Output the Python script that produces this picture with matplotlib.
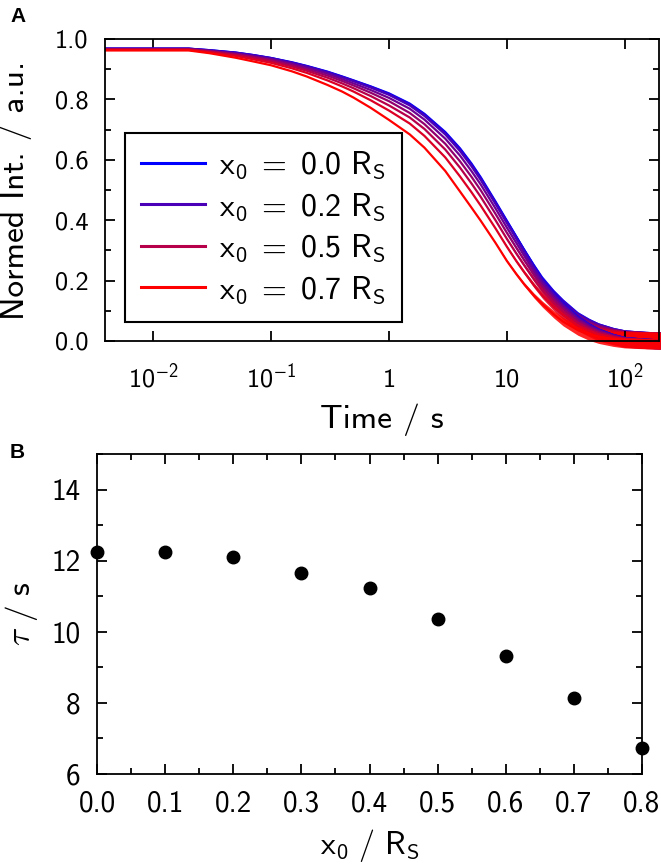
import matplotlib
matplotlib.use("Agg")
import matplotlib.pyplot as plt
from matplotlib.ticker import FixedLocator, FuncFormatter, MultipleLocator, NullLocator
import numpy as np

plt.rcParams['font.family'] = ['cmss10', 'DejaVu Sans']
plt.rcParams['mathtext.fontset'] = 'custom'
plt.rcParams['mathtext.rm'] = 'cmss10'
plt.rcParams['mathtext.sf'] = 'cmss10'
plt.rcParams['mathtext.it'] = 'cmmi10'
plt.rcParams['mathtext.bf'] = 'cmss10'
plt.rcParams['axes.unicode_minus'] = False

# ---------------- data ----------------
time_s = [0.004, 0.02, 0.03, 0.05, 0.07, 0.1, 0.15, 0.2, 0.3, 0.4, 0.5, 0.7, 1, 1.5, 2, 3, 4, 5,
          6, 8, 10, 12, 14, 17, 20, 25, 30, 40, 50, 60, 80, 100, 150, 200]
int_x00 = [.968, .968, .963, .955, .947, .937, .923, .911, .892, .876, .863, .843, .820, .786, .752, .692, .638, .588,
           .542, .462, .398, .346, .302, .248, .205, .158, .125, .080, .055, .038, .020, .010, .004, .002]
int_x01 = [.968, .968, .963, .955, .947, .937, .922, .910, .891, .875, .862, .842, .818, .784, .750, .689, .635, .585,
           .539, .459, .395, .344, .300, .246, .203, .157, .124, .079, .054, .038, .020, .010, .004, .002]
int_x02 = [.968, .968, .962, .954, .946, .936, .921, .909, .889, .873, .860, .839, .815, .780, .745, .684, .629, .579,
           .533, .454, .390, .339, .295, .242, .200, .154, .121, .077, .053, .037, .019, .010, .004, .002]
int_x03 = [.967, .967, .961, .952, .943, .933, .918, .905, .885, .867, .853, .831, .805, .769, .733, .670, .614, .563,
           .518, .439, .375, .325, .283, .231, .191, .146, .115, .073, .049, .034, .018, .009, .004, .002]
int_x04 = [.966, .966, .960, .950, .941, .930, .914, .900, .879, .861, .846, .822, .794, .755, .718, .653, .595, .544,
           .499, .421, .358, .309, .268, .219, .180, .137, .107, .067, .045, .031, .016, .008, .003, .002]
int_x05 = [.965, .965, .958, .947, .938, .926, .909, .895, .872, .853, .837, .811, .780, .740, .702, .634, .574, .522,
           .477, .400, .338, .290, .251, .204, .168, .126, .098, .060, .040, .027, .014, .007, .003, .002]
int_x06 = [.964, .964, .956, .944, .933, .921, .903, .888, .863, .843, .826, .797, .763, .720, .679, .608, .545, .493,
           .448, .373, .312, .265, .228, .184, .151, .112, .085, .051, .034, .022, .012, .006, .003, .001]
int_x07 = [.962, .962, .953, .938, .926, .913, .893, .876, .848, .826, .806, .772, .732, .684, .640, .563, .495, .442,
           .398, .325, .265, .222, .188, .150, .122, .088, .064, .036, .022, .014, .007, .004, .002, .001]
noise_halfwidth = [0, 0, 0, 0, 0, 0, 0, 0, 0, 0, 0, 0, 0, 0, 0, 0, 0, 0,
                   .001, .002, .004, .005, .006, .008, .010, .012, .014, .017, .020, .022, .025, .027, .028, .028]

curve_x0 = [0.0, 0.1, 0.2, 0.3, 0.4, 0.5, 0.6, 0.7]
curves = [int_x00, int_x01, int_x02, int_x03, int_x04, int_x05, int_x06, int_x07]
legend_x0 = [0.0, 0.2, 0.5, 0.7]

x0_values = [0.0, 0.1, 0.2, 0.3, 0.4, 0.5, 0.6, 0.7, 0.8]
tau_values = [12.25, 12.25, 12.1, 11.65, 11.22, 10.35, 9.31, 8.15, 6.72]

# ---------------- figure ----------------
W, H = 661, 864
fig = plt.figure(figsize=(W / 100, H / 100), dpi=100)

def px_axes(l, t, r, b):
    return fig.add_axes([l / W, 1 - b / H, (r - l) / W, (b - t) / H])

axA = px_axes(105, 39, 659, 341)
axB = px_axes(97, 454, 642, 774)

def colour(x0):
    f = x0 / 0.7
    return (f, 0.0, 1.0 - f)

# Panel A
t = np.array(time_s)
hw = np.array(noise_halfwidth)
for x0, vals in zip(curve_x0, curves):
    v = np.array(vals)
    c = colour(x0)
    axA.fill_between(t, v - hw, v + hw, color=c, alpha=0.85, linewidth=0, clip_on=False)
    lbl = r'$\mathregular{x_0\;=\;%.1f\ R_S}$' % x0 if x0 in legend_x0 else None
    axA.plot(t, v, color=c, lw=1.6, label=lbl, clip_on=False)

axA.set_xscale('log')
axA.set_xlim(0.0039, 195)
axA.set_ylim(0.0, 1.0)
axA.xaxis.set_major_locator(FixedLocator([0.01, 0.1, 1, 10, 100]))
axA.xaxis.set_minor_locator(NullLocator())

def logfmt(v, pos):
    e = int(round(np.log10(v)))
    if e == 0:
        return '1'
    if e == 1:
        return '10'
    return r'$\mathregular{10^{%d}}$' % e

axA.xaxis.set_major_formatter(FuncFormatter(logfmt))
axA.yaxis.set_major_locator(MultipleLocator(0.2))
axA.yaxis.set_minor_locator(MultipleLocator(0.1))
axA.yaxis.set_major_formatter(FuncFormatter(lambda v, p: '%.1f' % v))

for ax in (axA, axB):
    for s in ax.spines.values():
        s.set_linewidth(1.3)
    ax.tick_params(which='both', direction='in', top=True, right=True, width=1.3)
    ax.tick_params(which='major', length=7)
    ax.tick_params(which='minor', length=4)

axA.tick_params(axis='x', which='major', labelsize=19, pad=33)
axA.tick_params(axis='y', which='major', labelsize=19, pad=12)
for lab in axA.get_xticklabels():
    lab.set_va('baseline')

axA.set_xlabel('Time / s', fontsize=24, va='center')
axA.xaxis.set_label_coords(0.5, (341 - 420) / 302)
axA.set_ylabel('Normed Int. / a.u.', fontsize=24, va='center')
axA.yaxis.set_label_coords((16 - 105) / 554, 0.5)

leg = axA.legend(loc='lower left', bbox_to_anchor=(0.036, 0.063), borderaxespad=0,
                 fontsize=23, frameon=True, fancybox=False, edgecolor='black',
                 framealpha=1, handlelength=2.0, handletextpad=0.45,
                 labelspacing=0.3, borderpad=0.5)
leg.get_frame().set_linewidth(1.5)
for ln in leg.get_lines():
    ln.set_linewidth(2.2)

# Panel B
axB.plot(x0_values, tau_values, 'o', color='black', ms=9, clip_on=False, zorder=5)
axB.set_xlim(0.0, 0.8)
axB.set_ylim(6, 15)
axB.xaxis.set_major_locator(MultipleLocator(0.1))
axB.xaxis.set_minor_locator(MultipleLocator(0.05))
axB.yaxis.set_major_locator(MultipleLocator(2))
axB.yaxis.set_minor_locator(MultipleLocator(1))
axB.xaxis.set_major_formatter(FuncFormatter(lambda v, p: '%.1f' % v))
axB.tick_params(axis='x', which='major', labelsize=21, pad=12)
axB.tick_params(axis='y', which='major', labelsize=21, pad=12)
axB.set_xlabel(r'$\mathregular{x_0\ /\ R_S}$', fontsize=23, va='center')
axB.xaxis.set_label_coords(0.5, (774 - 845) / 320)
axB.set_ylabel(r'$\tau\mathregular{\ /\ s}$', fontsize=24, va='center')
axB.yaxis.set_label_coords((22 - 97) / 545, 0.5)

# Panel letters
fig.text(10 / W, 1 - 22 / H, 'A', fontsize=15, fontweight='bold', family='Liberation Sans')
fig.text(10 / W, 1 - 458 / H, 'B', fontsize=15, fontweight='bold', family='Liberation Sans')

fig.savefig('out.png', dpi=100)
